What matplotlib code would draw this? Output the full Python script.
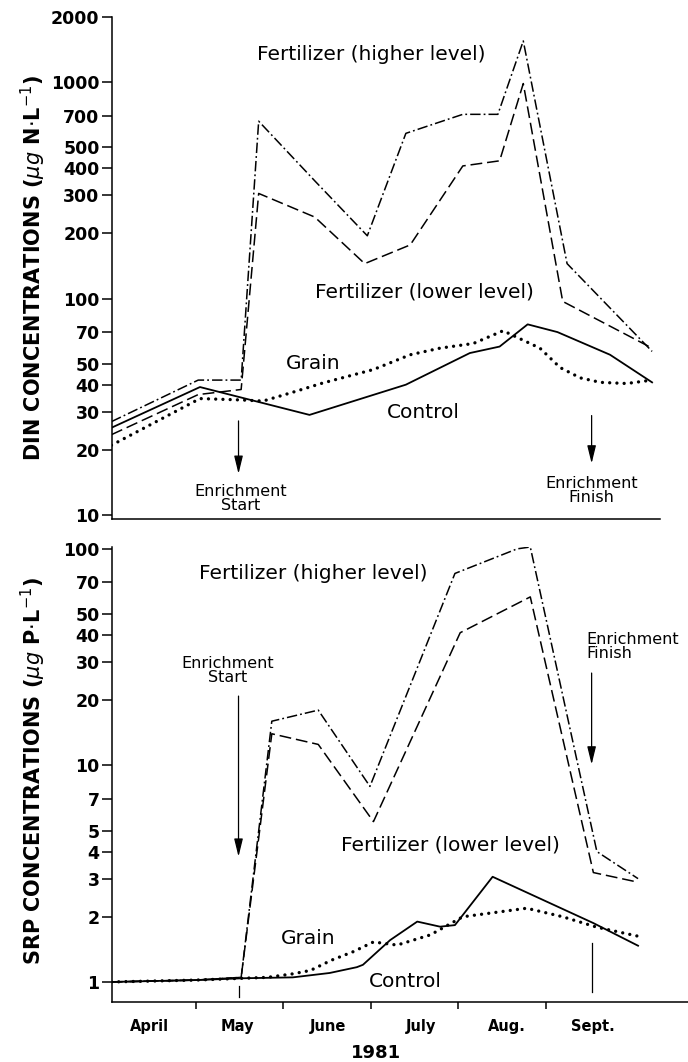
import matplotlib
matplotlib.use("Agg")
import matplotlib.pyplot as plt
from matplotlib.ticker import NullLocator

plt.rcParams['font.family'] = ['DejaVu Sans']
plt.rcParams['lines.scale_dashes'] = False

# ---------------- data (x in months since 1 April 1981) ----------------
din_higher_x = [0.04, 1.03, 1.52, 1.72, 2.36, 2.96, 3.40, 4.05, 4.45, 4.74, 5.24, 6.21]
din_higher = [27, 42, 42, 660, 350, 195, 580, 710, 710, 1550, 145, 57]

din_lower_x = [0.04, 1.03, 1.52, 1.72, 2.36, 2.93, 3.45, 4.05, 4.47, 4.74, 5.19, 6.21]
din_lower = [23.5, 36, 38, 306, 238, 145, 177, 410, 433, 985, 97, 59]

din_control_x = [0.04, 1.05, 2.30, 3.40, 4.13, 4.47, 4.79, 5.13, 5.73, 6.21]
din_control = [25.3, 39, 29, 40, 56, 60, 76, 70, 55, 41]

din_grain_x = [0.04, 1.05, 1.52, 1.77, 2.08, 2.45, 3.03, 3.45, 3.79, 4.17, 4.51,
               4.93, 5.16, 5.39, 5.62, 5.92, 6.21]
din_grain = [21, 34.5, 34, 33.6, 36.6, 40.7, 47, 55, 59, 62, 71,
             59, 48, 43, 41, 40.5, 42]

srp_higher_x = [0.04, 1.00, 1.52, 1.87, 2.40, 2.99, 3.96, 4.67, 4.82, 5.58, 6.05]
srp_higher = [1.0, 1.02, 1.05, 16, 18, 8.0, 77, 100, 102, 4.0, 3.0]

srp_lower_x = [0.04, 1.00, 1.52, 1.87, 2.40, 3.03, 4.02, 4.82, 5.54, 6.03]
srp_lower = [1.0, 1.02, 1.05, 14, 12.5, 5.5, 41, 60, 3.2, 2.9]

srp_control_x = [0.04, 1.00, 1.54, 2.11, 2.53, 2.84, 2.91, 3.22, 3.53, 3.79, 3.96,
                 4.39, 5.54, 6.05]
srp_control = [1.0, 1.02, 1.04, 1.05, 1.10, 1.17, 1.20, 1.56, 1.90, 1.80, 1.83,
               3.06, 1.87, 1.47]

srp_grain_x = [0.04, 1.00, 1.54, 1.82, 2.11, 2.31, 2.55, 2.80, 3.03, 3.30, 3.68,
               4.05, 4.78, 5.19, 5.58, 6.07]
srp_grain = [1.0, 1.02, 1.04, 1.05, 1.09, 1.13, 1.26, 1.38, 1.53, 1.48, 1.65,
             2.0, 2.19, 2.0, 1.79, 1.62]

din_ticks = [10, 20, 30, 40, 50, 70, 100, 200, 300, 400, 500, 700, 1000, 2000]
srp_ticks = [1, 2, 3, 4, 5, 7, 10, 20, 30, 40, 50, 70, 100]
month_bounds = [1, 2, 3, 4, 5]
month_names = ["April", "May", "June", "July", "Aug.", "Sept."]
month_label_x = [0.47, 1.48, 2.51, 3.57, 4.55, 5.54]

enrich_start_x = 1.49
enrich_finish_x = 5.52

# ---------------- figure ----------------
W, H = 688, 1062
fig = plt.figure(figsize=(W / 100, H / 100), dpi=100)
ax1 = fig.add_axes([112 / W, 1 - 519 / H, (688 - 112) / W, (519 - 17) / H])
ax2 = fig.add_axes([112 / W, 1 - 1002 / H, (688 - 112) / W, (1002 - 547) / H])

ls_high = (0, (7.5, 2.2, 1.3, 2.2))
ls_low = (0, (8.5, 3.5))
ls_dot = (0, (0.01, 5.2))
lw = 1.1

for ax in (ax1, ax2):
    ax.set_yscale('log')
    ax.set_xlim(0.046, 6.62)
    ax.spines['top'].set_visible(False)
    ax.spines['right'].set_visible(False)
    for s in ('left', 'bottom'):
        ax.spines[s].set_linewidth(1.1)
    ax.yaxis.set_minor_locator(NullLocator())
    ax.tick_params(axis='y', which='major', direction='out', length=7,
                   width=1.1, pad=2, labelsize=12.5)

# ---- top panel: DIN ----
ax1.set_ylim(9.58, 2000)
ax1.set_yticks(din_ticks, labels=[str(t) for t in din_ticks], fontweight='bold')
ax1.set_xticks([])
ax1.spines['bottom'].set_bounds(0.046, 6.30)

ax1.plot(din_higher_x, din_higher, color='black', lw=lw, ls=ls_high)
ax1.plot(din_lower_x, din_lower, color='black', lw=lw, ls=ls_low)
ax1.plot(din_control_x, din_control, color='black', lw=1.3, ls='-')
ax1.plot(din_grain_x, din_grain, color='black', lw=2.4, ls=ls_dot,
         dash_capstyle='round')

tkw = dict(fontsize=14.5, ha='center', va='center', color='black')
ax1.text(3.01, 1340, "Fertilizer (higher level)", **tkw)
ax1.text(3.61, 107, "Fertilizer (lower level)", **tkw)
ax1.text(2.34, 50, "Grain", **tkw)
ax1.text(3.60, 29.8, "Control", **tkw)

akw = dict(arrowstyle='-|>,head_length=0.9,head_width=0.22', lw=0.9,
           color='black', shrinkA=0, shrinkB=0, mutation_scale=12)
ax1.annotate('', xy=(enrich_start_x, 15.5), xytext=(enrich_start_x, 27.2),
             arrowprops=akw)
ax1.annotate('', xy=(enrich_finish_x, 17.3), xytext=(enrich_finish_x, 28.8),
             arrowprops=akw)
ax1.text(1.51, 11.9, "Enrichment\nStart", fontsize=11.5, ha='center',
         va='center', linespacing=0.95)
ax1.text(5.52, 13.0, "Enrichment\nFinish", fontsize=11.5, ha='center',
         va='center', linespacing=0.95)

# ---- bottom panel: SRP ----
ax2.set_ylim(0.808, 102)
ax2.set_yticks(srp_ticks, labels=[str(t) for t in srp_ticks], fontweight='bold')
ax2.set_xticks(month_bounds, labels=[''] * len(month_bounds))
ax2.set_xticks(month_label_x, labels=month_names, minor=True,
               fontweight='bold', fontsize=10.5)
ax2.tick_params(axis='x', which='major', direction='out', length=5, width=1.1)
ax2.tick_params(axis='x', which='minor', length=0, pad=12)

ax2.plot(srp_higher_x, srp_higher, color='black', lw=lw, ls=ls_high)
ax2.plot(srp_lower_x, srp_lower, color='black', lw=lw, ls=ls_low)
ax2.plot(srp_control_x, srp_control, color='black', lw=1.3, ls='-')
ax2.plot(srp_grain_x, srp_grain, color='black', lw=2.4, ls=ls_dot,
         dash_capstyle='round')

ax2.text(2.34, 77, "Fertilizer (higher level)", **tkw)
ax2.text(3.91, 4.31, "Fertilizer (lower level)", **tkw)
ax2.text(2.29, 1.58, "Grain", **tkw)
ax2.text(3.39, 1.01, "Control", **tkw)

ax2.annotate('', xy=(enrich_start_x, 3.79), xytext=(enrich_start_x, 20.9),
             arrowprops=akw)
ax2.annotate('', xy=(enrich_finish_x, 10.1), xytext=(enrich_finish_x, 26.7),
             arrowprops=akw)
ax2.plot([enrich_start_x, enrich_start_x], [0.85, 0.96], color='black', lw=0.9)
ax2.plot([enrich_finish_x, enrich_finish_x], [0.90, 1.52], color='black', lw=0.9)
ax2.text(1.37, 27.5, "Enrichment\nStart", fontsize=11.5, ha='center',
         va='center', linespacing=0.95)
ax2.text(5.46, 35.3, "Enrichment\nFinish", fontsize=11.5, ha='left',
         va='center', linespacing=0.95, multialignment='left')

# ---- axis titles ----
fig.text(33 / W, 1 - 268 / H, r"DIN CONCENTRATIONS ($\mu g$ N$\cdot$L$^{-1}$)",
         rotation=90, ha='center', va='center', fontsize=15, fontweight='bold')
fig.text(33 / W, 1 - 771 / H, r"SRP CONCENTRATIONS ($\mu g$ P$\cdot$L$^{-1}$)",
         rotation=90, ha='center', va='center', fontsize=15, fontweight='bold')
fig.text(376 / W, 1 - 1053 / H, "1981", ha='center', va='center',
         fontsize=13, fontweight='bold')

fig.savefig("out.png", dpi=100)
